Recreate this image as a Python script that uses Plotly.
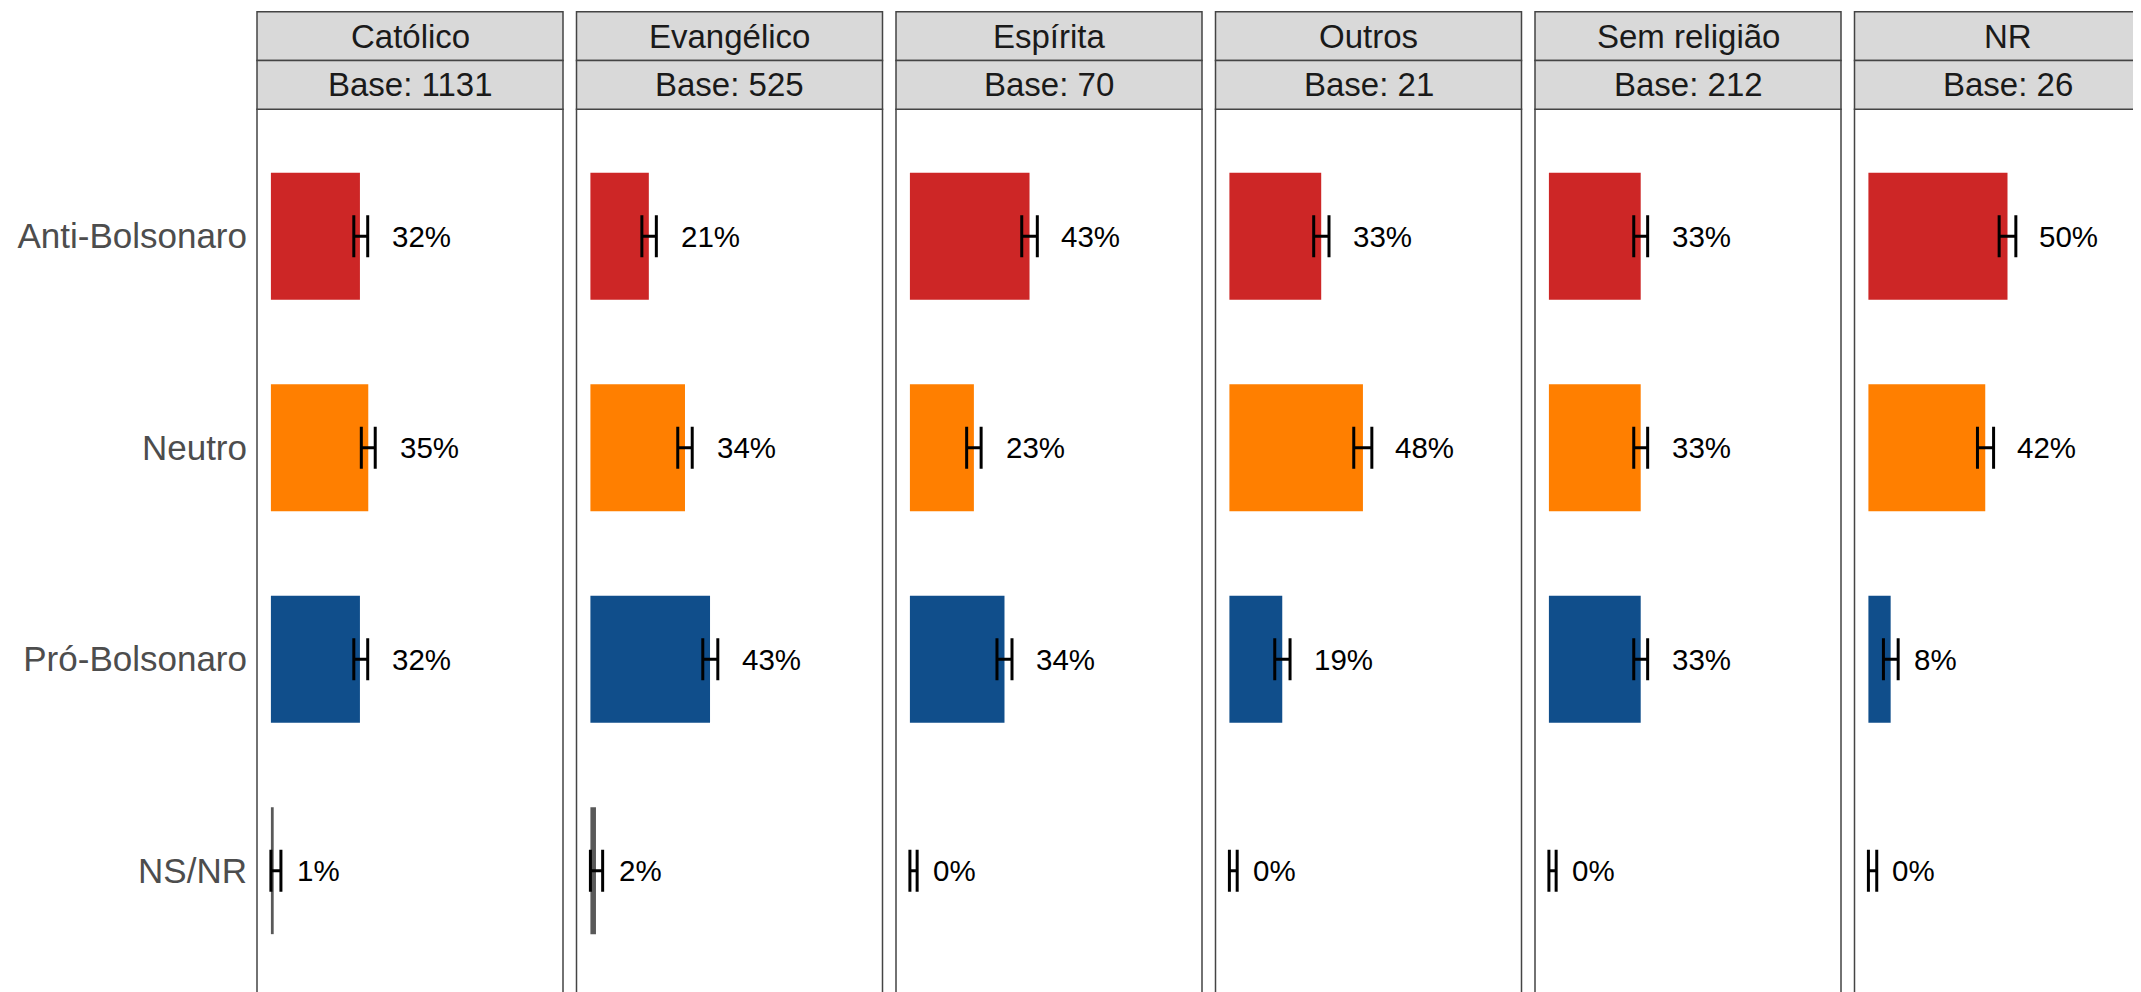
import plotly.graph_objects as go

# ---------------- data ----------------
religions = ["Católico", "Evangélico", "Espírita", "Outros", "Sem religião", "NR"]
bases = [1131, 525, 70, 21, 212, 26]
categories = ["Anti-Bolsonaro", "Neutro", "Pró-Bolsonaro", "NS/NR"]

catolico = [32, 35, 32, 1]
evangelico = [21, 34, 43, 2]
espirita = [43, 23, 34, 0]
outros = [33, 48, 19, 0]
sem_religiao = [33, 33, 33, 0]
nr = [50, 42, 8, 0]

catolico_low = [29.8, 32.5, 29.8, 0.0]
catolico_up = [34.8, 37.5, 34.8, 3.6]
evangelico_low = [18.5, 31.4, 40.4, 0.0]
evangelico_up = [23.7, 36.6, 45.8, 4.4]
espirita_low = [40.2, 20.4, 31.3, 0.0]
espirita_up = [45.8, 25.6, 36.7, 2.6]
outros_low = [30.3, 44.7, 16.3, 0.0]
outros_up = [35.8, 51.2, 21.8, 2.8]
sem_religiao_low = [30.5, 30.5, 30.5, 0.0]
sem_religiao_up = [35.5, 35.5, 35.5, 2.6]
nr_low = [47.0, 39.2, 5.4, 0.0]
nr_up = [53.0, 45.0, 10.7, 3.0]

values = [catolico, evangelico, espirita, outros, sem_religiao, nr]
lows = [catolico_low, evangelico_low, espirita_low, outros_low, sem_religiao_low, nr_low]
ups = [catolico_up, evangelico_up, espirita_up, outros_up, sem_religiao_up, nr_up]

cat_colors = {"Anti-Bolsonaro": "#CD2626", "Neutro": "#FF7F00",
              "Pró-Bolsonaro": "#104E8B", "NS/NR": "#595959"}

# ---------------- layout geometry (px, page coords minus 8px body margin) ----------------
OFF = 8.0
FIG_W, FIG_H = 2141 - 8, 992 - 8
PANEL_LEFT0 = 257.0 - OFF
PANEL_W = 306.0
PANEL_STEP = 319.5
STRIP_TOP = 11.7 - OFF
STRIP_MID = 60.5 - OFF
STRIP_BOT = 109.3 - OFF
ROW_PX = 211.5
FONT = "Liberation Sans, Arial, Helvetica, sans-serif"
LINE_COL = "#444444"
LABEL_SIZE = 29.5
STRIP_SIZE = 33

fig = go.Figure()
shapes = []
annotations = []

y_top_frac = 1 - STRIP_BOT / FIG_H
y_range = [-0.6 + (FIG_H - STRIP_BOT) / ROW_PX, -0.6]

for i, rel in enumerate(religions):
    left = PANEL_LEFT0 + i * PANEL_STEP
    right = left + PANEL_W
    vis_right = min(right, FIG_W)
    x_hi = -0.05 + 1.1 * (vis_right - left) / PANEL_W
    ax = "" if i == 0 else str(i + 1)
    xa, ya = "x" + ax, "y" + ax

    v = [p / 100 for p in values[i]]
    lo = [p / 100 for p in lows[i]]
    up = [p / 100 for p in ups[i]]

    fig.add_trace(go.Bar(
        x=v, y=categories, orientation="h", width=0.6,
        marker=dict(color=[cat_colors[c] for c in categories], line=dict(width=0)),
        error_x=dict(type="data", symmetric=False,
                     array=[u - a for u, a in zip(up, v)],
                     arrayminus=[a - l for a, l in zip(v, lo)],
                     color="black", thickness=3, width=21),
        xaxis=xa, yaxis=ya, showlegend=False, hoverinfo="skip",
    ))

    fig.layout["xaxis" + ax] = dict(
        domain=[left / FIG_W, vis_right / FIG_W], range=[-0.05, x_hi],
        showgrid=False, zeroline=False, showticklabels=False, ticks="",
        showline=False, anchor=ya, fixedrange=True)
    fig.layout["yaxis" + ax] = dict(
        domain=[0, y_top_frac], range=y_range, type="category",
        categoryorder="array", categoryarray=categories,
        showgrid=False, zeroline=False, showline=False,
        showticklabels=(i == 0), ticks="", ticklabelstandoff=9,
        tickfont=dict(family=FONT, size=35, color="#4D4D4D"),
        anchor=xa, fixedrange=True)

    # value labels
    for c, val in zip(categories, values[i]):
        txt = f"{val}%"
        ndig = len(str(val))
        w = LABEL_SIZE * (0.556 * ndig + 0.889)
        annotations.append(dict(
            x=val / 100, y=c, xref=xa, yref=ya, text=txt, showarrow=False,
            xanchor="left", yanchor="middle", xshift=0.53 * w - 1.5,
            font=dict(family=FONT, size=LABEL_SIZE, color="black")))

    # panel border
    shapes.append(dict(type="rect", xref="paper", yref="paper",
                       x0=left / FIG_W, x1=right / FIG_W,
                       y0=-0.05, y1=1 - STRIP_BOT / FIG_H,
                       line=dict(color=LINE_COL, width=1.5), fillcolor="rgba(0,0,0,0)"))
    # strips
    for (t, b) in [(STRIP_TOP, STRIP_MID), (STRIP_MID, STRIP_BOT)]:
        shapes.append(dict(type="rect", xref="paper", yref="paper",
                           x0=left / FIG_W, x1=right / FIG_W,
                           y0=1 - b / FIG_H, y1=1 - t / FIG_H,
                           line=dict(color=LINE_COL, width=1.5), fillcolor="#D9D9D9"))
    cx = (left + right) / 2 / FIG_W
    annotations.append(dict(x=cx, y=1 - (STRIP_TOP + STRIP_MID) / 2 / FIG_H,
                            xref="paper", yref="paper", text=rel, showarrow=False,
                            xanchor="center", yanchor="middle",
                            font=dict(family=FONT, size=STRIP_SIZE, color="#1A1A1A")))
    annotations.append(dict(x=cx, y=1 - (STRIP_MID + STRIP_BOT) / 2 / FIG_H,
                            xref="paper", yref="paper", text=f"Base: {bases[i]}",
                            showarrow=False, xanchor="center", yanchor="middle",
                            font=dict(family=FONT, size=STRIP_SIZE, color="#1A1A1A")))

fig.update_layout(
    width=FIG_W, height=FIG_H,
    margin=dict(l=0, r=0, t=0, b=0),
    paper_bgcolor="white", plot_bgcolor="white",
    shapes=shapes, annotations=annotations,
    barmode="overlay",
    font=dict(family=FONT),
)

fig.write_html("out.html", config={"displayModeBar": False})
